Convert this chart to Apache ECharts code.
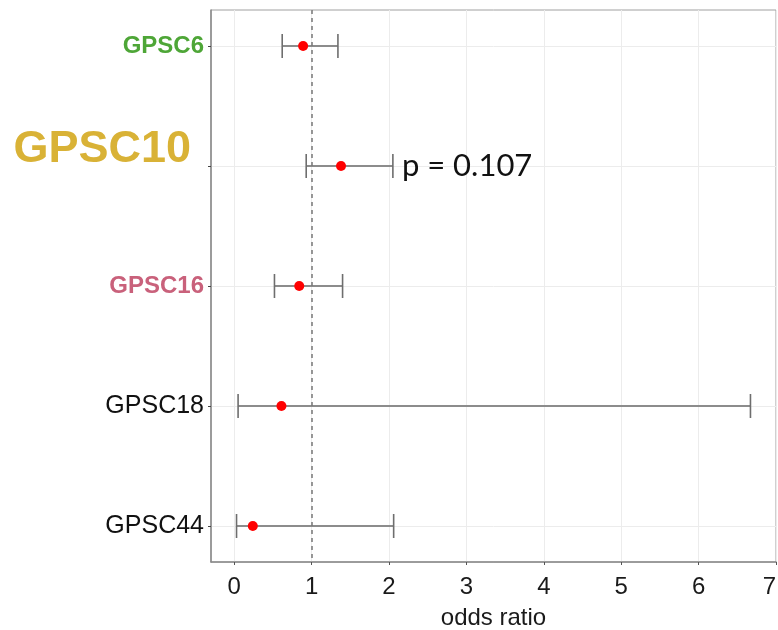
<!DOCTYPE html>
<html>
<head>
<meta charset="utf-8">
<style>html,body{margin:0;padding:0;background:#fff}#main{width:778px;height:630px}</style>
<script src="https://cdn.jsdelivr.net/npm/echarts@6/dist/echarts.min.js"></script>
</head>
<body>
<div id="main"></div>
<script>
// clusters, top to bottom
var clusters = ['GPSC6', 'GPSC10', 'GPSC16', 'GPSC18', 'GPSC44'];
var rowPos = [1, 2, 3, 4, 5];
var oddsRatio = [0.89, 1.38, 0.84, 0.61, 0.24];
var ciLow = [0.62, 0.93, 0.52, 0.05, 0.03];
var ciHigh = [1.34, 2.05, 1.40, 6.67, 2.06];
var pLabels = ['', 'p = 0.107', '', '', ''];
var labelStyle = ['green', 'gold', 'pink', 'plain', 'plain'];
var xTicks = [0, 1, 2, 3, 4, 5, 6, 7];

var chart = echarts.init(document.getElementById('main'));

var barData = [];
var pointData = [];
clusters.forEach(function(c, i) {
	barData.push([rowPos[i], ciLow[i], ciHigh[i]]);
	pointData.push([oddsRatio[i], rowPos[i]]);
});

chart.setOption({
	animation: false,
	grid: {
		left: 211,
		right: 2,
		top: 10,
		bottom: 68,
		outerBoundsMode: 'none',
		containLabel: false,
		show: true,
		borderColor: '#a0a0a0',
		borderWidth: 1
	},
	xAxis: {
		type: 'value',
		min: -0.3,
		max: 7,
		name: 'odds ratio',
		nameLocation: 'middle',
		nameGap: 44,
		nameTextStyle: {
			fontFamily: 'Liberation Sans',
			fontSize: 24,
			color: '#1a1a1a'
		},
		axisLine: {
			show: true,
			onZero: false,
			lineStyle: { color: '#8a8a8a', width: 1.5 }
		},
		axisTick: {
			show: true,
			length: 3,
			customValues: xTicks,
			lineStyle: { color: '#555' }
		},
		axisLabel: {
			customValues: xTicks,
			margin: 13,
			alignMaxLabel: 'right',
			fontFamily: 'Liberation Sans',
			fontSize: 24,
			color: '#1a1a1a'
		},
		splitLine: {
			show: true,
			lineStyle: { color: '#ececec', width: 1 }
		}
	},
	yAxis: {
		type: 'value',
		inverse: true,
		min: 0.7,
		max: 5.3,
		axisLine: {
			show: true,
			onZero: false,
			lineStyle: { color: '#8a8a8a', width: 1.5 }
		},
		axisTick: {
			show: true,
			length: 3,
			customValues: rowPos,
			lineStyle: { color: '#444' }
		},
		axisLabel: {
			customValues: rowPos,
			margin: 7,
			fontFamily: 'Liberation Sans',
			formatter: function(v) {
				var i = rowPos.indexOf(v);
				return '{' + labelStyle[i] + '|' + clusters[i] + '}';
			},
			rich: {
				green: { color: '#4ea637', fontWeight: 'bold', fontSize: 24, fontFamily: 'Liberation Sans' },
				gold: { color: '#d9b236', fontWeight: 'bold', fontSize: 45, fontFamily: 'Liberation Sans', padding: [0, 13, 32, 0] },
				pink: { color: '#c9617b', fontWeight: 'bold', fontSize: 24, fontFamily: 'Liberation Sans' },
				plain: { color: '#111', fontSize: 25, fontFamily: 'Liberation Sans' }
			}
		},
		splitLine: {
			show: true,
			lineStyle: { color: '#ececec', width: 1 }
		}
	},
	series: [{
			name: 'ci',
			type: 'custom',
			encode: { x: [1, 2], y: 0 },
			renderItem: function(params, api) {
				var y = api.value(0);
				var p1 = api.coord([api.value(1), y]);
				var p2 = api.coord([api.value(2), y]);
				var h = 12;
				var kids = [{
					type: 'line',
					shape: { x1: p1[0], y1: p1[1], x2: p2[0], y2: p2[1] },
					style: { stroke: '#8c8c8c', lineWidth: 2.2 }
				}, {
					type: 'line',
					shape: { x1: p1[0], y1: p1[1] - h, x2: p1[0], y2: p1[1] + h },
					style: { stroke: '#6e6e6e', lineWidth: 1.6 }
				}, {
					type: 'line',
					shape: { x1: p2[0], y1: p2[1] - h, x2: p2[0], y2: p2[1] + h },
					style: { stroke: '#6e6e6e', lineWidth: 1.6 }
				}];
				var t = pLabels[params.dataIndex];
				if(t) {
					kids.push({
						type: 'text',
						x: p2[0] + 9,
						y: p2[1],
						style: {
							text: t,
							fontFamily: 'Lato',
							fontSize: 31,
							fill: '#111',
							align: 'left',
							verticalAlign: 'middle'
						}
					});
				}
				return { type: 'group', children: kids };
			},
			data: barData,
			z: 2
		},
		{
			name: 'ref',
			type: 'line',
			data: [],
			markLine: {
				silent: true,
				symbol: 'none',
				label: { show: false },
				lineStyle: { color: '#777', type: [4, 4], width: 1.5 },
				data: [{ xAxis: 1 }]
			},
			z: 3
		},
		{
			name: 'or',
			type: 'scatter',
			symbolSize: 10,
			itemStyle: { color: '#ff0000', opacity: 1 },
			data: pointData,
			z: 4
		}
	]
});
</script>
</body>
</html>
